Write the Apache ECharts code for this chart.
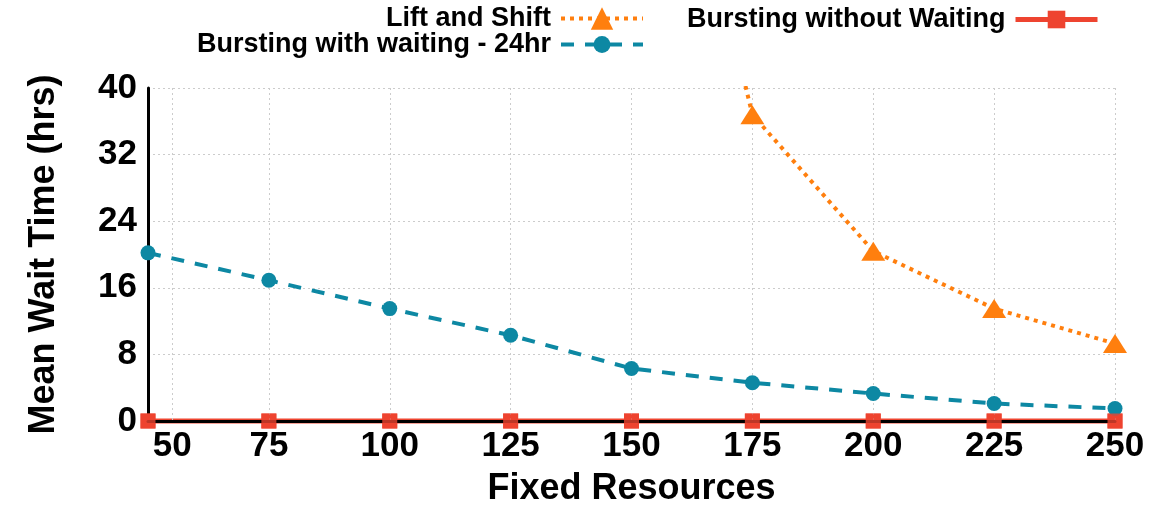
<!DOCTYPE html>
<html>
<head>
<meta charset="utf-8">
<script src="https://cdn.jsdelivr.net/npm/echarts@6/dist/echarts.min.js"></script>
<style>
html,body{margin:0;padding:0;background:#fff;}
#chart{width:1171px;height:508px;}
</style>
</head>
<body>
<div id="chart"></div>
<script>
// x categories (Fixed Resources)
const resources = ['50','75','100','125','150','175','200','225','250'];
// where each x tick label sits, in category-index units
const xTickAt = [0.2, 1, 2, 3, 4, 5, 6, 7, 8];
// y ticks
const yTicks = [0, 8, 16, 24, 32, 40];
// series values (hrs)
const liftAndShift     = [null, null, null, null, 97, 36.8, 20.4, 13.5, 9.3];
const burstingWaiting  = [20.2, 16.9, 13.5, 10.3, 6.3, 4.6, 3.3, 2.1, 1.5];
const burstingNoWait   = [0, 0, 0, 0, 0, 0, 0, 0, 0];

const FONT = '"Liberation Sans", Arial, Helvetica, sans-serif';
const ORANGE = '#ff7f0e';
const BLUE = '#0d88a3';
const RED = '#ee4430';

const toXY = arr => arr.map((v, i) => [i, v]);

const chart = echarts.init(document.getElementById('chart'), null, {renderer: 'canvas'});

const legendText = {fontFamily: FONT, fontWeight: 'bold', fontSize: 27, color: '#000', padding: [0, 5, 0, 0]};

chart.setOption({
  animation: false,
  backgroundColor: '#fff',
  textStyle: {fontFamily: FONT},
  grid: {left: 148, right: 56, top: 88, bottom: 87, containLabel: false, outerBoundsMode: 'none'},
  legend: [
    {data: ['Lift and Shift'], right: 526, top: 5, align: 'right', orient: 'horizontal',
     itemWidth: 82, itemHeight: 28, padding: 0, textStyle: legendText, selectedMode: false,
     lineStyle: {width: 4}},
    {data: ['Bursting with waiting - 24hr'], right: 526, top: 31, align: 'right',
     itemWidth: 82, itemHeight: 21, padding: 0, textStyle: legendText, selectedMode: false,
     lineStyle: {width: 4}},
    {data: ['Bursting without Waiting'], right: 71, top: 6, align: 'right',
     itemWidth: 82, itemHeight: 22, padding: 0, textStyle: legendText, selectedMode: false,
     lineStyle: {width: 5}}
  ],
  xAxis: {
    type: 'value', min: 0, max: resources.length - 1, interval: 1,
    z: 3,
    name: 'Fixed Resources', nameLocation: 'middle', nameGap: 50,
    nameTextStyle: {fontFamily: FONT, fontWeight: 'bold', fontSize: 36, color: '#000'},
    axisLine: {show: true, onZero: false, lineStyle: {color: '#000', width: 3}},
    axisTick: {show: false, customValues: xTickAt},
    axisLabel: {
      customValues: xTickAt,
      fontFamily: FONT, fontWeight: 'bold', fontSize: 35, color: '#000', margin: 8,
      formatter: v => { const k = xTickAt.indexOf(v); return k >= 0 ? resources[k] : ''; }
    },
    splitLine: {show: true, lineStyle: {color: '#cccccc', width: 1, type: [2, 3]}}
  },
  yAxis: {
    type: 'value', min: yTicks[0], max: yTicks[yTicks.length - 1], interval: yTicks[1] - yTicks[0],
    name: 'Mean Wait Time (hrs)', nameLocation: 'middle', nameGap: 86,
    nameTextStyle: {fontFamily: FONT, fontWeight: 'bold', fontSize: 36, color: '#000'},
    axisLine: {show: true, lineStyle: {color: '#000', width: 3}},
    axisTick: {show: false},
    axisLabel: {fontFamily: FONT, fontWeight: 'bold', fontSize: 35, color: '#000', margin: 11},
    splitLine: {show: true, lineStyle: {color: '#cccccc', width: 1, type: [2, 3]}}
  },
  series: [
    {
      name: 'Lift and Shift', type: 'line', data: toXY(liftAndShift), clip: true,
      symbol: 'triangle', symbolSize: [24, 19], z: 4,
      lineStyle: {color: ORANGE, width: 4, type: [4, 5]},
      itemStyle: {color: ORANGE}
    },
    {
      name: 'Bursting without Waiting', type: 'line', data: toXY(burstingNoWait), clip: false,
      symbol: 'rect', symbolSize: 15, z: 2,
      lineStyle: {color: RED, width: 5},
      itemStyle: {color: RED}
    },
    {
      name: 'Bursting without Waiting', type: 'scatter', data: toXY(burstingNoWait), clip: false,
      symbol: 'rect', symbolSize: 15, z: 5,
      itemStyle: {color: RED}
    },
    {
      name: 'Bursting with waiting - 24hr', type: 'line', data: toXY(burstingWaiting), clip: false,
      symbol: 'circle', symbolSize: 15, z: 4,
      lineStyle: {color: BLUE, width: 4, type: [13, 11]},
      itemStyle: {color: BLUE}
    }
  ]
});
</script>
</body>
</html>
